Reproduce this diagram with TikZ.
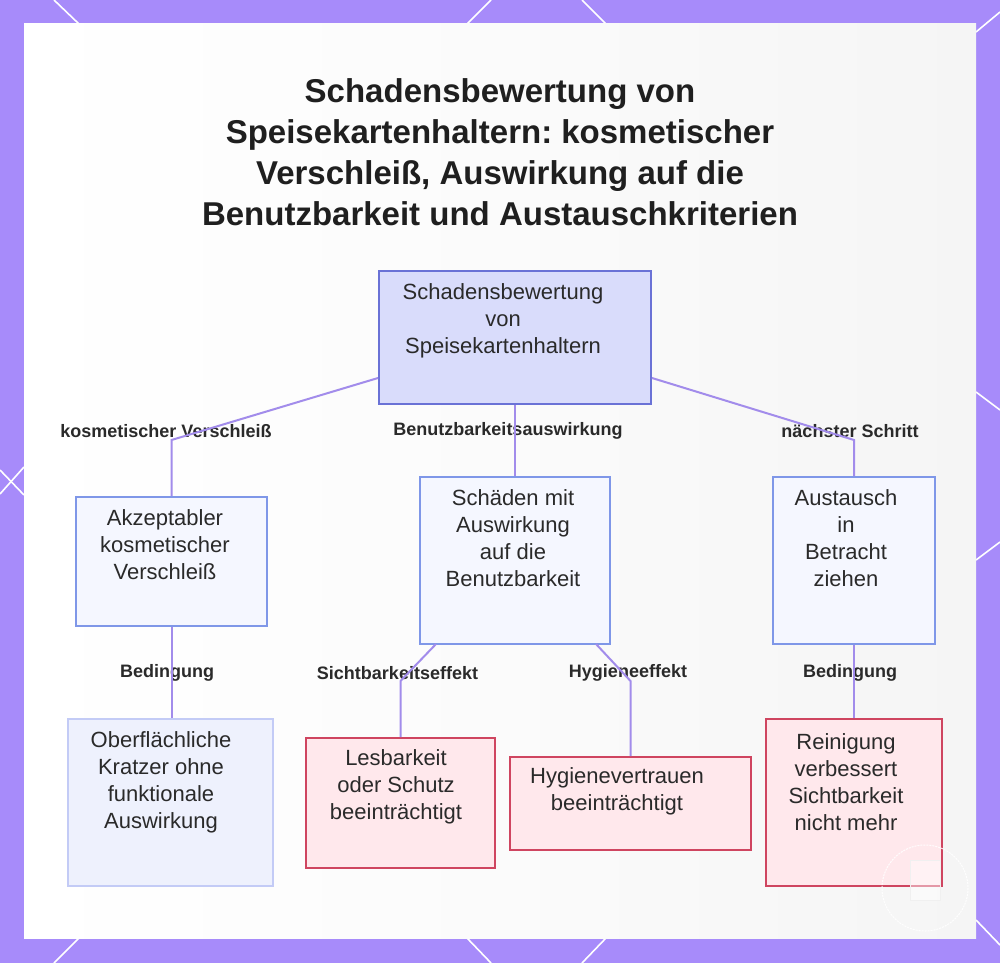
\documentclass[tikz,border=0pt]{standalone}
\usepackage{fontspec}
\setmainfont{Liberation Sans}
\usetikzlibrary{calc}
\frenchspacing
\definecolor{bgpurple}{HTML}{A78BFA}
\definecolor{panelgray}{HTML}{F5F5F5}
\definecolor{conncol}{HTML}{A28CEB}
\definecolor{rootfill}{HTML}{D9DCFB}
\definecolor{rootdraw}{HTML}{6A72D6}
\definecolor{midfill}{HTML}{F5F7FF}
\definecolor{middraw}{HTML}{7F97E8}
\definecolor{softfill}{HTML}{EEF1FD}
\definecolor{softdraw}{HTML}{C3CBF6}
\definecolor{redfill}{HTML}{FFE8EC}
\definecolor{reddraw}{HTML}{CF4560}
\definecolor{txt}{HTML}{2A2A2A}
\tikzset{
  boxbase/.style={rectangle, inner sep=0pt, line width=2pt},
  rootbox/.style={boxbase, fill=rootfill, draw=rootdraw},
  midbox/.style={boxbase, fill=midfill, draw=middraw},
  softbox/.style={boxbase, fill=softfill, draw=softdraw},
  redbox/.style={boxbase, fill=redfill, draw=reddraw},
  boxtext/.style={align=center, inner sep=0pt, text=txt, font=\fontsize{22}{27}\selectfont},
  edgelabel/.style={inner sep=0pt, text=txt, font=\fontsize{18}{22}\selectfont\bfseries},
  conn/.style={draw=conncol, line width=2pt},
  deco/.style={draw=white, line width=1.6pt},
}
\begin{document}
\begin{tikzpicture}[x=1pt,y=-1pt]
\useasboundingbox (0,0) rectangle (1000,963);
\fill[bgpurple] (0,0) rectangle (1000,963);
% decorative lines on the border
\draw[deco] (54,0) -- (79,24);
\draw[deco] (491,0) -- (467,24);
\draw[deco] (582,0) -- (606,24);
\draw[deco] (1000,12) -- (976,32);
\draw[deco] (0,470) -- (24,495);
\draw[deco] (0,494) -- (24,467);
\draw[deco] (976,392) -- (1000,410);
\draw[deco] (976,560) -- (1000,542);
\draw[deco] (79,938) -- (54,963);
\draw[deco] (467,938) -- (491,963);
\draw[deco] (606,938) -- (582,963);
\draw[deco] (976,920) -- (1000,945);
% panel
\shade[left color=white, right color=panelgray, middle color=white!60!panelgray] (24,24) rectangle (976,938);

% title
\node[align=center, inner sep=0pt, text=black!88, font=\fontsize{33}{41}\selectfont\bfseries] (title) at (500,152)
  {Schadensbewertung von\\Speisekartenhaltern: kosmetischer\\Verschleiß, Auswirkung auf die\\Benutzbarkeit und Austauschkriterien};

% boxes
\node[rootbox, minimum width=272pt, minimum height=133pt] (root) at (515,337.5) {};
\node[midbox, minimum width=191pt, minimum height=129pt] (A) at (171.5,561.5) {};
\node[midbox, minimum width=190pt, minimum height=167pt] (B) at (515,560.5) {};
\node[midbox, minimum width=162pt, minimum height=167pt] (C) at (854,560.5) {};
\node[softbox, minimum width=205pt, minimum height=167pt] (D) at (170.5,802.5) {};
\node[redbox, minimum width=189pt, minimum height=130pt] (E) at (400.5,803) {};
\node[redbox, minimum width=241pt, minimum height=93pt] (F) at (630.5,803.5) {};
\node[redbox, minimum width=176pt, minimum height=167pt] (G) at (854,802.5) {};

% box texts
\node[boxtext] (rootT) at (503,321) {Schadensbewertung\\von\\Speisekartenhaltern};
\node[boxtext] (AT) at (165,545) {Akzeptabler\\kosmetischer\\Verschleiß};
\node[boxtext] (BT) at (513,538.5) {Schäden mit\\Auswirkung\\auf die\\Benutzbarkeit};
\node[boxtext] (CT) at (846,538.5) {Austausch\\in\\Betracht\\ziehen};
\node[boxtext] (DT) at (161,782.5) {Oberflächliche\\Kratzer ohne\\funktionale\\Auswirkung};
\node[boxtext] (ET) at (396,787) {Lesbarkeit\\oder Schutz\\beeinträchtigt};
\node[boxtext] (FT) at (617,791.5) {Hygienevertrauen\\beeinträchtigt};
\node[boxtext] (GT) at (846,782.5) {Reinigung\\verbessert\\Sichtbarkeit\\nicht mehr};

% connector bend points
\coordinate (rA0) at (root.west |- 0,378);
\coordinate (rA1) at (171.5,440);
\coordinate (rC0) at (root.east |- 0,378);
\coordinate (rC1) at (854,440);
\coordinate (bE0) at (436,644);
\coordinate (bE1) at (400.5,681);
\coordinate (bF0) at (596,644);
\coordinate (bF1) at (630.5,681);

% edge labels
\node[edgelabel] (l1) at (166,431) {kosmetischer Verschleiß};
\node[edgelabel] (l2) at (508,431) {Benutzbarkeitsauswirkung};
\node[edgelabel] (l3) at (850,431) {nächster Schritt};
\node[edgelabel] (l4) at (167,673) {Bedingung};
\node[edgelabel] (l5) at (397.5,673) {Sichtbarkeitseffekt};
\node[edgelabel] (l6) at (628,673) {Hygieneeffekt};
\node[edgelabel] (l7) at (850,673) {Bedingung};

% connectors
\draw[conn] (rA0) -- (rA1) -- (A.north);
\draw[conn] (root.south) -- (B.north);
\draw[conn] (rC0) -- (rC1) -- (C.north);
\draw[conn] (A.south) -- (A.south |- D.north);
\draw[conn] (bE0) -- (bE1) -- (bE1 |- E.north);
\draw[conn] (bF0) -- (bF1) -- (F.north);
\draw[conn] (C.south) -- (G.north);

% faint watermark
\draw[white, line width=1pt, dash pattern=on 2pt off 1pt, opacity=0.9] (925,888) circle (43);
\fill[white, opacity=0.45] (910,860) rectangle (940,900);
\draw[black!6, line width=0.6pt] (910,860) rectangle (940,900);
\end{tikzpicture}
\end{document}
